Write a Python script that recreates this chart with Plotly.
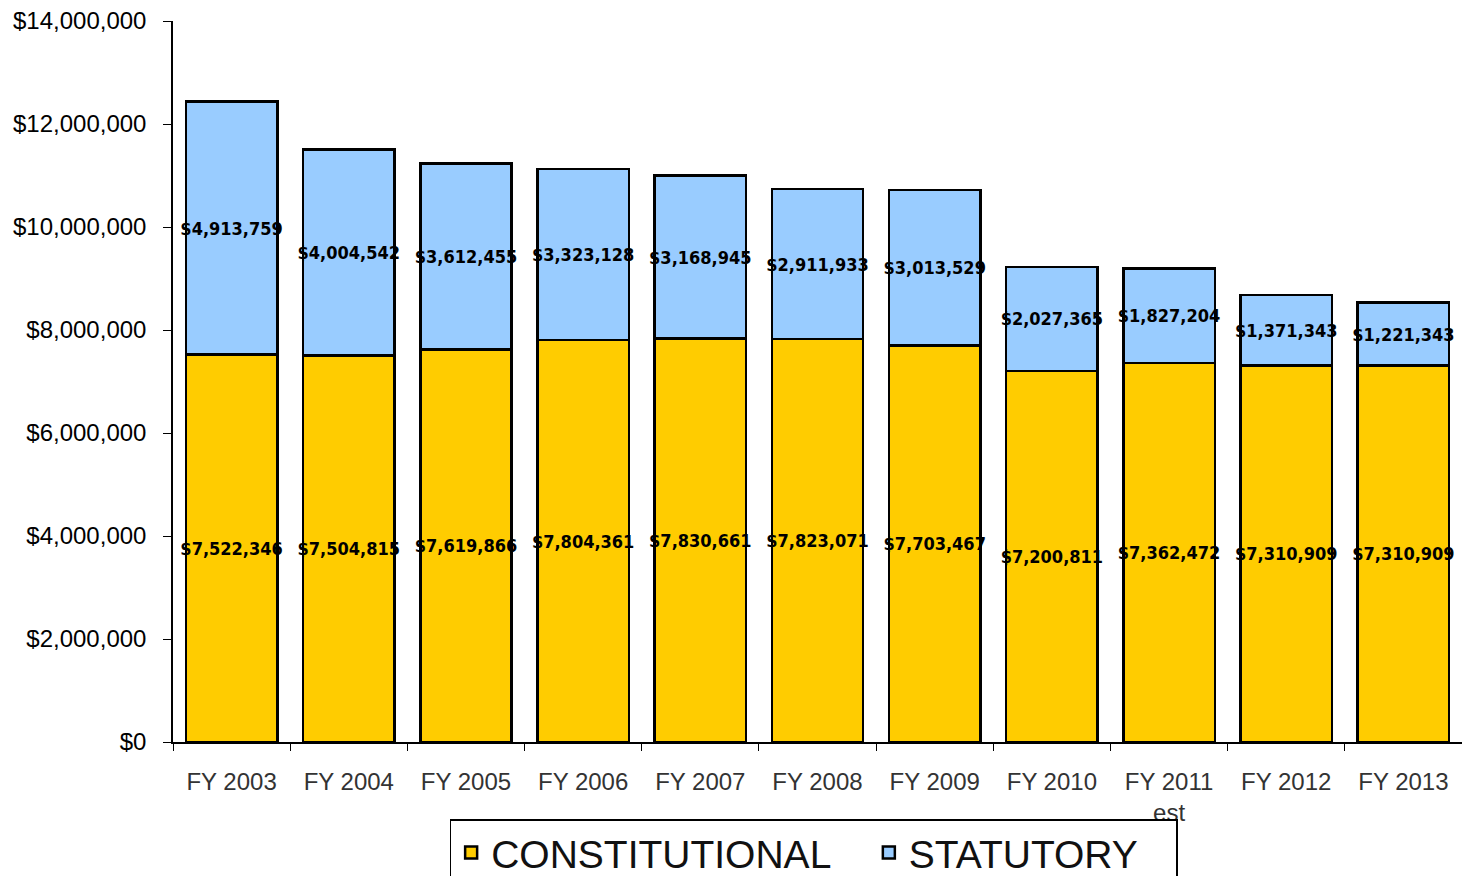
import plotly.graph_objects as go

categories = ["FY 2003", "FY 2004", "FY 2005", "FY 2006", "FY 2007", "FY 2008",
              "FY 2009", "FY 2010", "FY 2011<br>est", "FY 2012", "FY 2013"]
constitutional = [7522346, 7504815, 7619866, 7804361, 7830661, 7823071,
                  7703467, 7200811, 7362472, 7310909, 7310909]
statutory = [4913759, 4004542, 3612455, 3323128, 3168945, 2911933,
             3013529, 2027365, 1827204, 1371343, 1221343]
series_names = ["CONSTITUTIONAL", "STATUTORY"]
y_ticks = [0, 2000000, 4000000, 6000000, 8000000, 10000000, 12000000, 14000000]
y_tick_labels = ["$" + format(v, ",") for v in y_ticks]

label_font = dict(family="Liberation Sans Narrow, DejaVu Sans Condensed, Arial Narrow, sans-serif",
                  size=18, color="black", weight="bold")
NBSP = "\u00a0"

fig = go.Figure()
fig.add_trace(go.Bar(
    name=series_names[0] + NBSP * 3, x=categories, y=constitutional,
    marker=dict(color="#FFCC00", line=dict(color="black", width=2.5)),
    text=["$" + format(v, ",") for v in constitutional],
    textposition="inside", insidetextanchor="middle", textangle=0,
    textfont=label_font, cliponaxis=False,
))
fig.add_trace(go.Bar(
    name=series_names[1] + NBSP * 3, x=categories, y=statutory,
    marker=dict(color="#99CCFF", line=dict(color="black", width=2.5)),
    text=["$" + format(v, ",") for v in statutory],
    textposition="inside", insidetextanchor="middle", textangle=0,
    textfont=label_font, cliponaxis=False,
))

# The page body adds an 8px offset; the figure is sized to fit inside the
# 1470x884 window so the layout lines up with the reference.
fig.update_layout(
    barmode="stack",
    bargap=0.22,
    width=1454, height=868,
    margin=dict(l=165, r=0, t=13, b=134),
    plot_bgcolor="white", paper_bgcolor="white",
    font=dict(family="Liberation Sans, Arial, sans-serif", color="black"),
    uniformtext=dict(mode="show", minsize=18),
    showlegend=True,
    legend=dict(orientation="h", x=0.497, xanchor="center",
                yref="container", y=0.0655, yanchor="top",
                bordercolor="black", borderwidth=1.5,
                font=dict(size=39, family="Liberation Sans, Arial, sans-serif", color="#111"),
                traceorder="normal"),
    xaxis=dict(
        range=[-0.5, 10.5], showline=True, linecolor="black", linewidth=1.5,
        ticks="outside", tickson="boundaries", ticklen=7, tickcolor="black",
        tickfont=dict(size=24, color="#333"), showgrid=False,
        automargin=False, ticklabelstandoff=17,
    ),
    yaxis=dict(
        range=[0, 14000000], tickvals=y_ticks, ticktext=y_tick_labels,
        showline=True, linecolor="black", linewidth=1.5,
        ticks="outside", ticklen=8, tickcolor="black", showgrid=False,
        tickfont=dict(size=24, family="Liberation Sans, Arial, sans-serif", color="black"),
        zeroline=False, automargin=False, ticklabelstandoff=12,
        ticklabeloverflow="allow",
    ),
)

fig.write_html("out.html")
